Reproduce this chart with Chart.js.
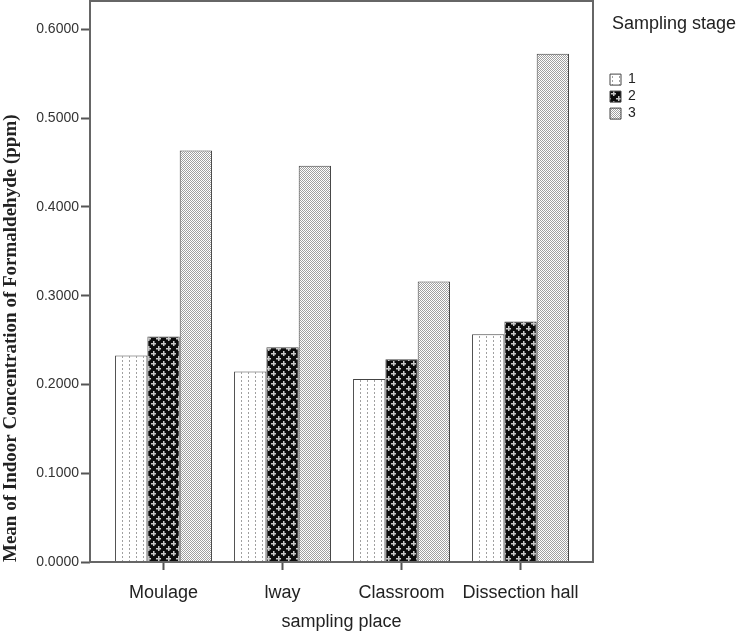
<!DOCTYPE html>
<html>
<head>
<meta charset="utf-8">
<title>Formaldehyde by sampling place</title>
<script src="https://cdn.jsdelivr.net/npm/chart.js@4.4.1/dist/chart.umd.min.js"></script>
<style>
  html, body { margin: 0; padding: 0; background: #fff; }
  #wrap { width: 741px; height: 633px; }
</style>
</head>
<body>
<div id="wrap"><canvas id="c" width="741" height="633"></canvas></div>
<script>
/* ================= DATA ================= */
const places = ["Moulage", "lway", "Classroom", "Dissection hall"];
const stageLabels = ["1", "2", "3"];
const stage1 = [0.2325, 0.2145, 0.2062, 0.2566];
const stage2 = [0.2539, 0.2420, 0.2284, 0.2708];
const stage3 = [0.4635, 0.4463, 0.3159, 0.5725];
const yTicks = [0, 0.1, 0.2, 0.3, 0.4, 0.5, 0.6];

/* ================= PATTERNS ================= */
function makeTile(w, h, draw) {
  const c = document.createElement("canvas");
  c.width = w; c.height = h;
  const g = c.getContext("2d");
  draw(g);
  return document.getElementById("c").getContext("2d").createPattern(c, "repeat");
}

// stage 1: white with thin dotted vertical lines
const pat1 = makeTile(7, 4, g => {
  g.fillStyle = "#fff"; g.fillRect(0, 0, 7, 4);
  g.fillStyle = "#a0a0a0"; g.fillRect(3, 0, 1, 2);
});

// stage 2: black with light plus signs, staggered
const pat2 = makeTile(10, 10, g => {
  g.fillStyle = "#0c0c0c"; g.fillRect(0, 0, 10, 10);
  g.fillStyle = "#c8c8c8";
  const plus = (cx, cy) => {
    for (const dx of [-10, 0, 10]) for (const dy of [-10, 0, 10]) {
      g.fillRect(cx + dx - 2, cy + dy, 5, 1.5);
      g.fillRect(cx + dx, cy + dy - 2, 1.5, 5);
    }
  };
  plus(3, 3);
  plus(8, 8);
});

// stage 3: fine grey checker
const pat3 = makeTile(2, 2, g => {
  g.fillStyle = "#fff"; g.fillRect(0, 0, 2, 2);
  g.fillStyle = "#a0a0a0"; g.fillRect(0, 0, 1, 1); g.fillRect(1, 1, 1, 1);
});

/* ================= PLUGINS ================= */
const framePlugin = {
  id: "frame",
  afterDatasetsDraw(chart) {
    const a = chart.chartArea, ctx = chart.ctx;
    ctx.save();
    ctx.strokeStyle = "#666";
    ctx.lineWidth = 2;
    ctx.strokeRect(a.left, a.top, a.right - a.left, a.bottom - a.top);
    ctx.restore();
  }
};

// legend box wide enough for its title
const legendWidthPlugin = {
  id: "legendWidth",
  beforeLayout(chart) {
    const lg = chart.legend;
    if (lg && !lg._wide) {
      const fit = lg.fit;
      lg.fit = function () { fit.call(this); this.width = 134; };
      lg._wide = true;
    }
  }
};

/* ================= CHART ================= */
const toPoints = arr => arr.map((v, i) => ({ x: i, y: v }));

Chart.defaults.font.family = '"Liberation Sans", Arial, sans-serif';
Chart.defaults.color = "#222";

new Chart(document.getElementById("c"), {
  type: "bar",
  data: {
    datasets: [
      { label: stageLabels[0], data: toPoints(stage1), backgroundColor: pat1 },
      { label: stageLabels[1], data: toPoints(stage2), backgroundColor: pat2 },
      { label: stageLabels[2], data: toPoints(stage3), backgroundColor: pat3 }
    ].map(d => Object.assign(d, {
      borderColor: "#444",
      borderWidth: 1,
      barPercentage: 1,
      categoryPercentage: 0.815
    }))
  },
  options: {
    responsive: false,
    animation: false,
    layout: { padding: { top: 1, right: 0, bottom: 0, left: 0 } },
    scales: {
      x: {
        type: "linear",
        min: -0.618,
        max: 3.609,
        offset: false,
        afterFit: s => { s.height = 71; s.paddingLeft = 0; s.paddingRight = 0; },
        grid: { display: true, offset: false, drawOnChartArea: false, drawTicks: true, tickLength: 8, tickColor: "#555", tickWidth: 2 },
        border: { display: false },
        ticks: {
          stepSize: 1,
          includeBounds: false,
          autoSkip: false,
          maxRotation: 0,
          padding: 12,
          font: { size: 18 },
          color: "#222",
          callback: v => places[v] !== undefined ? places[v] : ""
        },
        title: {
          display: true,
          text: "sampling place",
          font: { size: 18 },
          color: "#222",
          padding: { top: 8, bottom: 0 }
        }
      },
      y: {
        min: 0,
        max: 0.632,
        afterFit: s => { s.width = 90; s.paddingTop = 0; s.paddingBottom = 0; },
        afterBuildTicks: s => { s.ticks = yTicks.map(v => ({ value: v })); },
        grid: { display: true, drawOnChartArea: false, drawTicks: true, tickLength: 9, tickColor: "#555", tickWidth: 2 },
        border: { display: false },
        ticks: {
          padding: 2,
          font: { size: 14 },
          color: "#333",
          callback: v => Number(v).toFixed(4)
        },
        title: {
          display: true,
          text: "Mean of Indoor Concentration of Formaldehyde (ppm)",
          align: "start",
          font: { family: '"Liberation Serif", "Times New Roman", serif', size: 19, weight: "bold" },
          color: "#222",
          padding: { top: 0, bottom: 0 }
        }
      },
      y2: {
        type: "linear",
        position: "right",
        display: true,
        afterFit: s => { s.paddingTop = 0; s.paddingBottom = 0; },
        grid: { display: true, drawOnChartArea: false, drawTicks: true, tickLength: 14, tickColor: "rgba(0,0,0,0)" },
        border: { display: false },
        ticks: { display: false }
      }
    },
    plugins: {
      legend: {
        position: "right",
        align: "start",
        labels: {
          boxWidth: 11,
          boxHeight: 11,
          padding: 3,
          font: { size: 14 },
          color: "#222"
        },
        title: {
          display: true,
          text: "Sampling stage",
          position: "center",
          font: { size: 18 },
          color: "#222",
          padding: { top: 14, bottom: 33 }
        }
      },
      tooltip: { enabled: false }
    }
  },
  plugins: [framePlugin, legendWidthPlugin]
});
</script>
</body>
</html>
